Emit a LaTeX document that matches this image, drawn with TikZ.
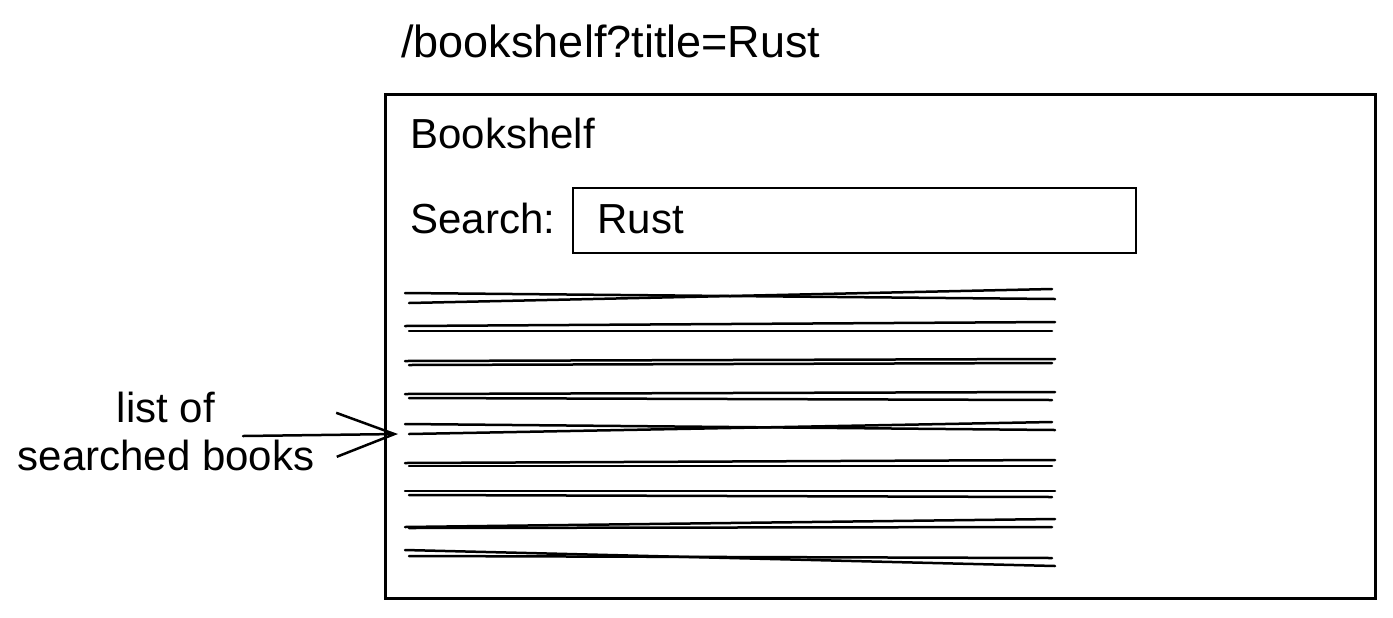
\documentclass[tikz,border=0pt]{standalone}
\usepackage{tikz}
\usetikzlibrary{positioning,arrows.meta}
\usepackage{fontspec}
\setmainfont{Liberation Sans}

\begin{document}
\begin{tikzpicture}[x=0.5pt,y=-0.5pt,>={Straight Barb[length=29pt,width=22pt]},
		sketch/.style={line width=1.25pt,line cap=round},
		frame/.style={draw,line width=1.5pt,inner sep=0pt,outer sep=0pt},
		txt/.style={inner sep=0pt,anchor=base west,font=\fontsize{21}{21}\selectfont}]
				\useasboundingbox (0,0) rectangle (1393,617);
				
				\node (url) [txt,font=\fontsize{22.5}{22.5}\selectfont] at (401,57) {/bookshelf?title=Rust};
				\node (shelf) [frame,minimum width=495pt,minimum height=252pt] at (880,346) {};
				\node (heading) [txt] at (410,148) {Bookshelf};
				\node (searchlbl) [txt] at (410,233) {Search:};
				\node (searchbox) [frame,line width=1.2pt,minimum width=281.5pt,minimum height=32.5pt] at (854.5,220.5) {};
				\node (query) [txt] at (597,233) {Rust};
				
				% rows of searched books, two rough strokes each
				\foreach \ya/\yb/\yc/\yd in {293/299/303/289, 326/322/331/331, 361/359/365/363,
					394/392/398/400, 424/430/434/422, 463/460/466/466,
					491/491/495/497, 527/519/528/527, 550/566/556/558}{ 
					\draw[sketch] (405,\ya)--(1055,\yb); 
					\draw[sketch] (409,\yc)--(1052,\yd); 
				}
				
				\node (books) [align=center,inner sep=0pt,font=\fontsize{21}{24}\selectfont] at (166,431) {list of\\searched books};
				\coordinate (tail) at (243,436);
				\coordinate (tip) at (398,434);
				\draw[->,sketch] (tail)--(tip);
\end{tikzpicture}
\end{document}
